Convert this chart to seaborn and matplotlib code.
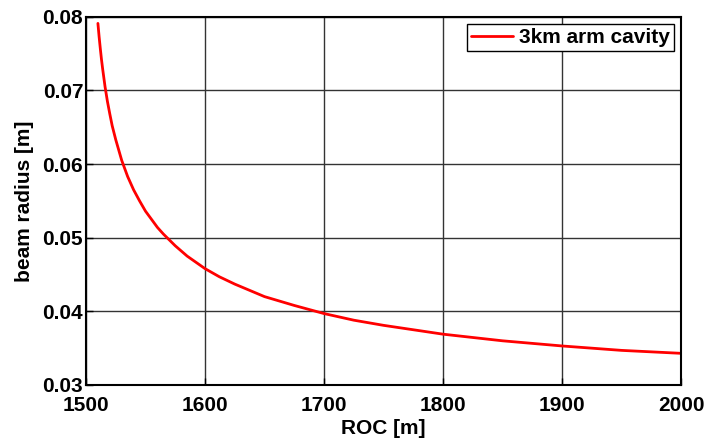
import matplotlib
matplotlib.use("Agg")
import matplotlib.pyplot as plt
import seaborn as sns
import pandas as pd

roc = [1510, 1511, 1512, 1513, 1514, 1516, 1518, 1520, 1522, 1525, 1530,
       1535, 1540, 1545, 1550, 1555, 1560, 1565, 1575, 1585, 1600, 1612,
       1625, 1650, 1675, 1700, 1725, 1750, 1800, 1850, 1900, 1950, 2000]
radius = [0.0791, 0.0773, 0.0757, 0.0742, 0.0729, 0.0705, 0.0685, 0.0668,
          0.0652, 0.0633, 0.0605, 0.0583, 0.0565, 0.0550, 0.0536, 0.0525,
          0.0514, 0.0505, 0.0489, 0.0475, 0.0458, 0.0447, 0.0437, 0.0420,
          0.0408, 0.0397, 0.0388, 0.0381, 0.0369, 0.0360, 0.0353, 0.0347,
          0.0343]
xticks = [1500, 1600, 1700, 1800, 1900, 2000]
yticks = [0.03, 0.04, 0.05, 0.06, 0.07, 0.08]
series = "3km arm cavity"

sns.set_style("white")
plt.rcParams['font.family'] = ['Liberation Sans', 'DejaVu Sans']
plt.rcParams['font.weight'] = 'bold'
plt.rcParams['text.color'] = 'black'
plt.rcParams['axes.labelcolor'] = 'black'
plt.rcParams['xtick.color'] = 'black'
plt.rcParams['ytick.color'] = 'black'

FS = 15

df = pd.DataFrame({"ROC": roc, "radius": radius, "series": series})

fig = plt.figure(figsize=(7.05, 4.41), dpi=100)
ax = fig.add_axes([0.122, 0.127, 0.844, 0.835])
sns.lineplot(data=df, x="ROC", y="radius", hue="series", palette=["#ff0000"],
             linewidth=2, ax=ax, sort=True)

ax.set_xlim(1500, 2000)
ax.set_ylim(0.03, 0.08)
ax.set_xticks(xticks)
ax.set_yticks(yticks)
ax.set_xticklabels([str(t) for t in xticks], fontsize=FS, fontweight='bold')
ax.set_yticklabels(["%.2f" % t for t in yticks], fontsize=FS, fontweight='bold')
ax.grid(True, color='#333333', linewidth=1.0, linestyle='-')
ax.set_axisbelow(True)
for s in ax.spines.values():
    s.set_visible(True)
    s.set_color('black')
    s.set_linewidth(1.5)
ax.tick_params(direction='in', length=5, width=1, colors='black',
               top=False, right=False, bottom=True, left=True)
ax.tick_params(axis='x', pad=8)
ax.tick_params(axis='y', pad=2)
ax.set_xlabel("ROC [m]", fontsize=FS, fontweight='bold', labelpad=3)
ax.set_ylabel("beam radius [m]", fontsize=FS, fontweight='bold', labelpad=6)

leg = ax.legend(loc='upper right', frameon=True, fancybox=False,
                borderaxespad=0.33, handlelength=2.0, handletextpad=0.3,
                borderpad=0.2, prop={'weight': 'bold', 'size': FS})
leg.get_frame().set_edgecolor('black')
leg.get_frame().set_linewidth(1.0)
leg.get_frame().set_alpha(1)

fig.savefig("out.png", dpi=100)
